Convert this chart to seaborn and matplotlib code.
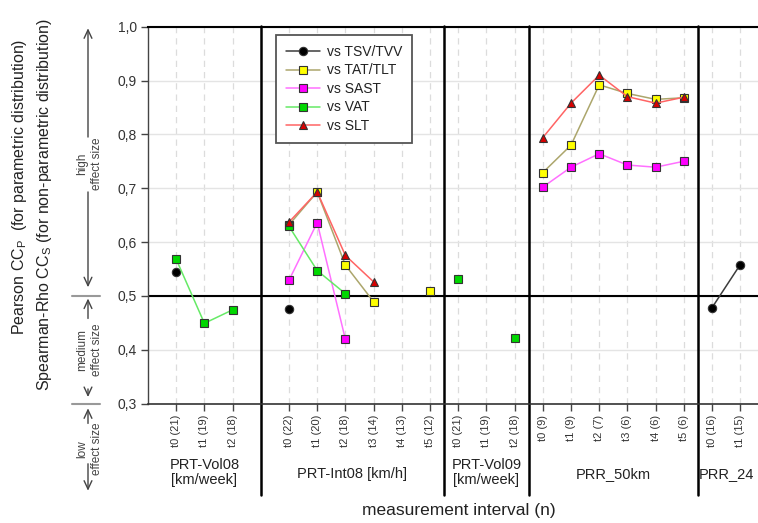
"""
Correlation coefficients per measurement interval, grouped by running parameter.
"""
import numpy as np
import pandas as pd
import seaborn as sns
import matplotlib.pyplot as plt
from matplotlib.lines import Line2D
from matplotlib.transforms import blended_transform_factory

nan = np.nan

# Groups and tick labels (n per interval)
groups = ["PRT-Vol08\n[km/week]", "PRT-Int08 [km/h]", "PRT-Vol09\n[km/week]", "PRR_50km", "PRR_24"]
tick_labels = [
    ["t0 (21)", "t1 (19)", "t2 (18)"],
    ["t0 (22)", "t1 (20)", "t2 (18)", "t3 (14)", "t4 (13)", "t5 (12)"],
    ["t0 (21)", "t1 (19)", "t2 (18)"],
    ["t0 (9)", "t1 (9)", "t2 (7)", "t3 (6)", "t4 (6)", "t5 (6)"],
    ["t0 (16)", "t1 (15)"],
]
series = ["vs TSV/TVV", "vs TAT/TLT", "vs SAST", "vs VAT", "vs SLT"]

# Values per interval, same order as the tick labels (nan = not shown)
tsv = [0.545, nan, nan,
       0.476, nan, nan, nan, nan, nan,
       nan, nan, nan,
       nan, nan, nan, nan, nan, nan,
       0.478, 0.558]
tat = [nan, nan, nan,
       0.632, 0.693, 0.557, 0.489, nan, 0.509,
       nan, nan, nan,
       0.729, 0.780, 0.892, 0.876, 0.865, 0.868,
       nan, nan]
sast = [nan, nan, nan,
        0.529, 0.636, 0.419, nan, nan, nan,
        nan, nan, nan,
        0.702, 0.739, 0.764, 0.743, 0.739, 0.750,
        nan, nan]
vat = [0.568, 0.449, 0.474,
       0.629, 0.547, 0.504, nan, nan, nan,
       0.532, nan, 0.422,
       nan, nan, nan, nan, nan, nan,
       nan, nan]
slt = [nan, nan, nan,
       0.637, 0.693, 0.575, 0.526, nan, nan,
       nan, nan, nan,
       0.794, 0.858, 0.910, 0.870, 0.858, 0.869,
       nan, nan]
values = [tsv, tat, sast, vat, slt]

# Layout of the x axis
group_start = [1, 5, 11, 14, 20]
bounds = [0, 4, 10.5, 13.5, 19.5, 21.5]
separators = bounds[1:-1]

styles = {
    "vs TSV/TVV": dict(color="#3c3c3c", marker="o", markerfacecolor="black", markersize=6),
    "vs TAT/TLT": dict(color="#aca66c", marker="s", markerfacecolor="#ffff00", markersize=5.3),
    "vs SAST": dict(color="#ff70ff", marker="s", markerfacecolor="#ff00ff", markersize=5.3),
    "vs VAT": dict(color="#66ea66", marker="s", markerfacecolor="#00d800", markersize=5.3),
    "vs SLT": dict(color="#ff6464", marker="^", markerfacecolor="#d80000", markersize=6),
}


def build_frame():
    rows = []
    x_pos, grp = [], []
    for g, (start, labels) in enumerate(zip(group_start, tick_labels)):
        for k in range(len(labels)):
            x_pos.append(start + k)
            grp.append(g)
    for name, vals in zip(series, values):
        seg = 0
        prev_ok, prev_g = False, None
        for x, g, v in zip(x_pos, grp, vals):
            ok = not np.isnan(v)
            if ok and (not prev_ok or g != prev_g):
                seg += 1
            if ok:
                rows.append(dict(series=name, x=x, value=v, seg=seg))
            prev_ok, prev_g = ok, g
    return pd.DataFrame(rows), x_pos


def main():
    df, x_pos = build_frame()

    sns.set_style("white")
    plt.rcParams["font.family"] = ["Liberation Sans", "DejaVu Sans"]
    plt.rcParams["mathtext.default"] = "regular"
    text_c = "#222222"

    fig = plt.figure(figsize=(7.58, 5.23), dpi=100)
    ax = fig.add_axes([148 / 758, 1 - 403.5 / 523, 610 / 758, 376.8 / 523])

    for name in series:
        st = styles[name]
        sns.lineplot(data=df[df.series == name], x="x", y="value", units="seg",
                     estimator=None, ax=ax, lw=1.1, markeredgecolor="#333333",
                     markeredgewidth=0.8, legend=False, zorder=3, **st)

    ax.axhline(0.5, color="black", lw=1.5, zorder=1.8)

    ax.set_xlim(0, 21.63)
    ax.set_ylim(0.3, 1.0)
    ax.set_xticks(x_pos)
    ax.set_xticklabels([t for lab in tick_labels for t in lab], rotation=90,
                       fontsize=8, color="#333333")
    yt = np.round(np.arange(0.3, 1.01, 0.1), 1)
    ax.set_yticks(yt)
    ax.set_yticklabels([f"{v:.1f}".replace(".", ",") for v in yt], fontsize=10,
                       color="#333333")
    ax.tick_params(bottom=True, left=True, direction="out", length=5, width=1,
                   color="#444444", pad=3)
    ax.set_xlabel("")
    ax.set_ylabel("")

    ax.set_axisbelow(True)
    ax.xaxis.grid(True, color="#dcdcdc", lw=0.9, linestyle=(0, (5, 4)))
    ax.yaxis.grid(True, color="#e4e4e4", lw=1.0)

    ax.spines["right"].set_visible(False)
    ax.spines["left"].set_color("#444444")
    ax.spines["left"].set_linewidth(1.0)
    ax.spines["top"].set_color("black")
    ax.spines["top"].set_linewidth(1.5)
    ax.spines["bottom"].set_color("#333333")
    ax.spines["bottom"].set_linewidth(1.2)

    # group separators reaching down below the group names
    sep_tr = blended_transform_factory(ax.transData, ax.transAxes)
    for s in separators:
        ax.plot([s, s], [1.003, -0.243], color="black", lw=1.8,
                transform=sep_tr, clip_on=False)

    # group names
    name_tr = blended_transform_factory(ax.transData, fig.transFigure)
    for g, name in enumerate(groups):
        cx = (bounds[g] + bounds[g + 1]) / 2
        cy = 472.5 if "\n" in name else 474
        ax.text(cx, 1 - cy / 523, name, transform=name_tr, ha="center",
                va="center", fontsize=10.5, color=text_c, linespacing=1.05)

    fig.text(459 / 758, 1 - 511 / 523, "measurement interval (n)", ha="center",
             va="center", fontsize=12.5, color=text_c)
    fig.text(20 / 758, 1 - 187 / 523,
             "Pearson CC$_P$  (for parametric distribution)", rotation=90,
             ha="center", va="center", fontsize=11.5, color=text_c)
    fig.text(45 / 758, 1 - 205 / 523,
             "Spearman-Rho CC$_S$ (for non-parametric distribution)", rotation=90,
             ha="center", va="center", fontsize=11.5, color=text_c)

    # effect size arrows on the left
    eff_tr = blended_transform_factory(fig.transFigure, ax.transData)
    ax_x = 88 / 758
    arrows = [(0.795, 0.997), (0.693, 0.516),
              (0.458, 0.495), (0.327, 0.312),
              (0.263, 0.291), (0.188, 0.138)]
    for y0, y1 in arrows:
        ax.annotate("", xy=(ax_x, y1), xytext=(ax_x, y0), xycoords=eff_tr,
                    textcoords=eff_tr, annotation_clip=False,
                    arrowprops=dict(arrowstyle="->,head_length=0.6,head_width=0.28",
                                    color="#444444", lw=1.0, shrinkA=0, shrinkB=0))
    for y, txt in [(0.745, "high\neffect size"), (0.399, "medium\neffect size"),
                   (0.216, "low\neffect size")]:
        ax.text(89.5 / 758, y, txt, transform=eff_tr, rotation=90, ha="center",
                va="center", fontsize=8.5, color="#444444", linespacing=1.3)
    for y in [0.5, 0.3]:
        ax.plot([72 / 758, 100 / 758], [y, y], color="#999999", lw=1.5,
                transform=eff_tr, clip_on=False)

    # legend
    handles = []
    for name in series:
        st = styles[name]
        handles.append(Line2D([], [], lw=1.1, markeredgecolor="#333333",
                              markeredgewidth=0.8, **st))
    leg = ax.legend(handles, series, loc="upper left", bbox_to_anchor=(0.2098, 0.979),
                    borderaxespad=0, borderpad=0.75, handletextpad=0.5,
                    handlelength=2.4, labelspacing=0.32, fontsize=10,
                    fancybox=False, framealpha=1, edgecolor="#555555")
    leg.get_frame().set_linewidth(1.3)
    for t in leg.get_texts():
        t.set_color(text_c)

    fig.savefig("out.png", dpi=100)


if __name__ == "__main__":
    main()
